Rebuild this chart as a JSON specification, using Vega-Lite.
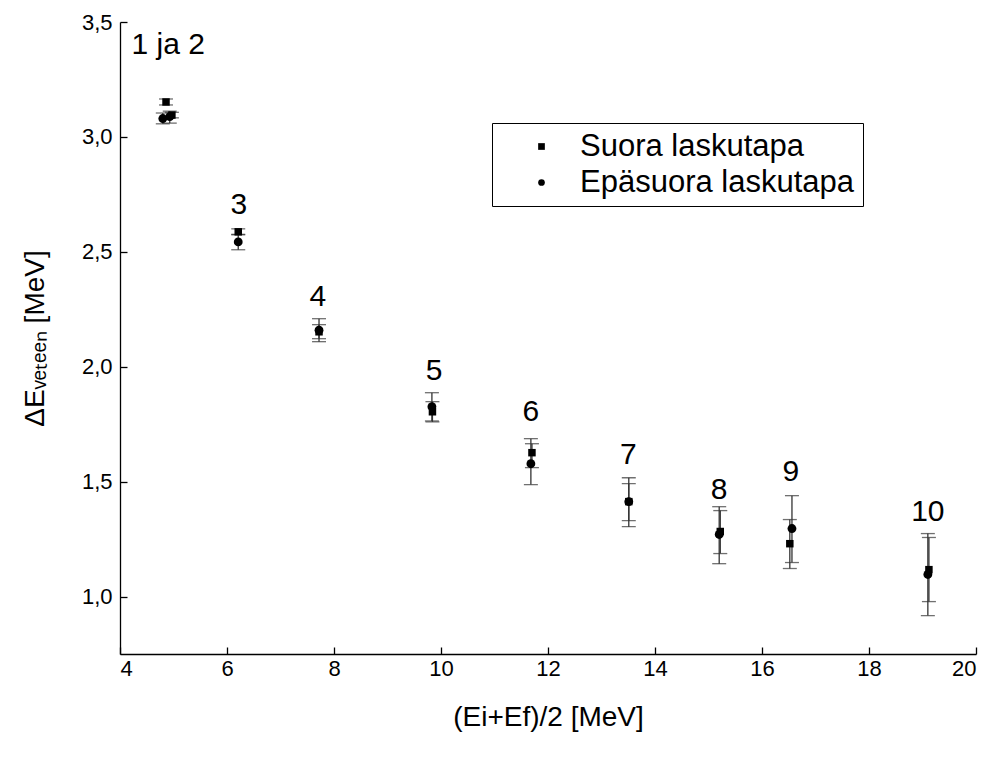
{
  "$schema": "https://vega.github.io/schema/vega-lite/v6.json",
  "width": 856,
  "height": 632,
  "autosize": {"type": "none"},
  "padding": {"left": 120, "top": 22, "right": 14, "bottom": 104},
  "background": "white",
  "config": {
    "font": "Liberation Sans",
    "view": {"stroke": null},
    "axis": {
      "grid": false,
      "domainColor": "#000000",
      "tickColor": "#000000",
      "labelColor": "#000000",
      "titleColor": "#000000",
      "labelFontSize": 22,
      "titleFontSize": 28,
      "titleFontWeight": "normal",
      "tickSize": -7,
      "domainWidth": 1.3,
      "tickWidth": 1.3
    }
  },
  "datasets": {
    "points": [
      {"group": "1", "method": "Suora laskutapa", "x": 4.86, "y": 3.152, "lo": 3.139, "hi": 3.165},
      {"group": "2", "method": "Suora laskutapa", "x": 4.97, "y": 3.095, "lo": 3.083, "hi": 3.107},
      {"group": "1", "method": "Epäsuora laskutapa", "x": 4.80, "y": 3.080, "lo": 3.057, "hi": 3.104},
      {"group": "2", "method": "Epäsuora laskutapa", "x": 4.93, "y": 3.088, "lo": 3.060, "hi": 3.112},
      {"group": "3", "method": "Suora laskutapa", "x": 6.21, "y": 2.587, "lo": 2.574, "hi": 2.600},
      {"group": "3", "method": "Epäsuora laskutapa", "x": 6.21, "y": 2.543, "lo": 2.509, "hi": 2.576},
      {"group": "4", "method": "Suora laskutapa", "x": 7.72, "y": 2.152, "lo": 2.122, "hi": 2.183},
      {"group": "4", "method": "Epäsuora laskutapa", "x": 7.72, "y": 2.159, "lo": 2.109, "hi": 2.209},
      {"group": "5", "method": "Suora laskutapa", "x": 9.84, "y": 1.804, "lo": 1.760, "hi": 1.848},
      {"group": "5", "method": "Epäsuora laskutapa", "x": 9.83, "y": 1.826, "lo": 1.764, "hi": 1.887},
      {"group": "6", "method": "Suora laskutapa", "x": 11.70, "y": 1.626, "lo": 1.561, "hi": 1.665},
      {"group": "6", "method": "Epäsuora laskutapa", "x": 11.68, "y": 1.578, "lo": 1.487, "hi": 1.687},
      {"group": "7", "method": "Suora laskutapa", "x": 13.51, "y": 1.413, "lo": 1.330, "hi": 1.491},
      {"group": "7", "method": "Epäsuora laskutapa", "x": 13.51, "y": 1.413, "lo": 1.304, "hi": 1.517},
      {"group": "8", "method": "Suora laskutapa", "x": 15.22, "y": 1.283, "lo": 1.187, "hi": 1.374},
      {"group": "8", "method": "Epäsuora laskutapa", "x": 15.20, "y": 1.270, "lo": 1.143, "hi": 1.391},
      {"group": "9", "method": "Suora laskutapa", "x": 16.52, "y": 1.230, "lo": 1.122, "hi": 1.335},
      {"group": "9", "method": "Epäsuora laskutapa", "x": 16.56, "y": 1.296, "lo": 1.148, "hi": 1.439},
      {"group": "10", "method": "Suora laskutapa", "x": 19.12, "y": 1.117, "lo": 0.978, "hi": 1.257},
      {"group": "10", "method": "Epäsuora laskutapa", "x": 19.10, "y": 1.096, "lo": 0.917, "hi": 1.274}
    ],
    "labels": [
      {"label": "1 ja 2", "x": 4.90, "y": 3.40},
      {"label": "3", "x": 6.22, "y": 2.704},
      {"label": "4", "x": 7.70, "y": 2.304},
      {"label": "5", "x": 9.87, "y": 1.983},
      {"label": "6", "x": 11.68, "y": 1.804},
      {"label": "7", "x": 13.50, "y": 1.617},
      {"label": "8", "x": 15.20, "y": 1.465},
      {"label": "9", "x": 16.54, "y": 1.543},
      {"label": "10", "x": 19.10, "y": 1.370}
    ]
  },
  "layer": [
    {
      "data": {"name": "points"},
      "mark": {"type": "rule", "color": "#333333", "strokeWidth": 1.3},
      "encoding": {
        "x": {
          "field": "x", "type": "quantitative",
          "scale": {"domain": [4, 20], "nice": false, "zero": false},
          "axis": {
            "values": [4, 6, 8, 10, 12, 14, 16, 18, 20],
            "title": "(Ei+Ef)/2 [MeV]",
            "labelPadding": 11,
            "titlePadding": 24
          }
        },
        "y": {
          "field": "lo", "type": "quantitative",
          "scale": {"domain": [0.75, 3.5], "nice": false, "zero": false},
          "axis": {
            "values": [1.0, 1.5, 2.0, 2.5, 3.0, 3.5],
            "labelExpr": "replace(format(datum.value, '.1f'), '.', ',')",
            "title": "ΔEᵥₑₜₑₑₙ [MeV]",
            "labelPadding": 15,
            "titlePadding": 32
          }
        },
        "y2": {"field": "hi"}
      }
    },
    {
      "data": {"name": "points"},
      "mark": {"type": "tick", "orient": "horizontal", "color": "#333333", "size": 14, "thickness": 1.3},
      "encoding": {
        "x": {"field": "x", "type": "quantitative"},
        "y": {"field": "lo", "type": "quantitative"}
      }
    },
    {
      "data": {"name": "points"},
      "mark": {"type": "tick", "orient": "horizontal", "color": "#333333", "size": 14, "thickness": 1.3},
      "encoding": {
        "x": {"field": "x", "type": "quantitative"},
        "y": {"field": "hi", "type": "quantitative"}
      }
    },
    {
      "data": {"name": "points"},
      "transform": [{"filter": "datum.method === 'Suora laskutapa'"}],
      "mark": {"type": "point", "filled": true, "color": "#000000", "opacity": 1, "size": 56},
      "encoding": {
        "x": {"field": "x", "type": "quantitative"},
        "y": {"field": "y", "type": "quantitative"},
        "shape": {
          "field": "method", "type": "nominal",
          "scale": {"domain": ["Suora laskutapa", "Epäsuora laskutapa"], "range": ["square", "circle"]},
          "legend": {
            "title": null,
            "orient": "none",
            "legendX": 372,
            "legendY": 101,
            "strokeColor": "#000000",
            "padding": 8,
            "labelFontSize": 31,
            "labelLimit": 500,
            "labelColor": "#000000",
            "symbolSize": 45,
            "symbolFillColor": "#000000",
            "symbolStrokeColor": "#000000",
            "symbolOffset": 26,
            "labelOffset": 23,
            "rowPadding": 4,
            "fillColor": "white"
          }
        }
      }
    },
    {
      "data": {"name": "points"},
      "transform": [{"filter": "datum.method === 'Epäsuora laskutapa'"}],
      "mark": {"type": "point", "filled": true, "color": "#000000", "opacity": 1, "size": 78},
      "encoding": {
        "x": {"field": "x", "type": "quantitative"},
        "y": {"field": "y", "type": "quantitative"},
        "shape": {"field": "method", "type": "nominal"}
      }
    },
    {
      "data": {"name": "labels"},
      "mark": {"type": "text", "fontSize": 30, "color": "#000000", "baseline": "middle", "align": "center"},
      "encoding": {
        "x": {"field": "x", "type": "quantitative"},
        "y": {"field": "y", "type": "quantitative"},
        "text": {"field": "label"}
      }
    }
  ]
}
